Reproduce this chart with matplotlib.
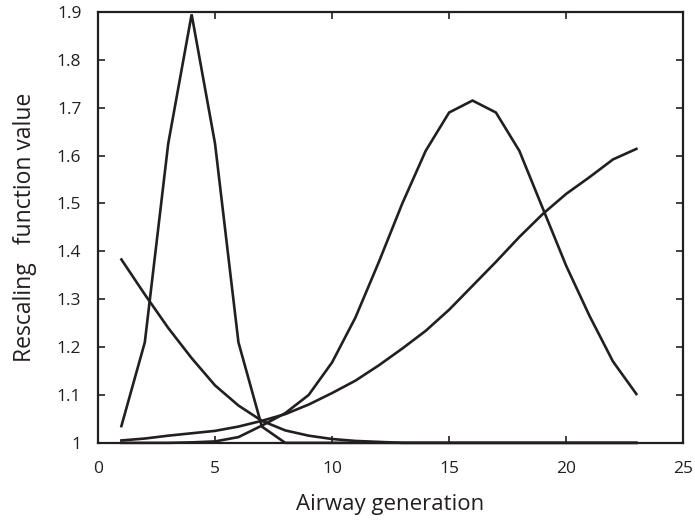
import numpy as np
from matplotlib import pyplot as plt

plt.rcParams['font.family'] = ['Open Sans', 'DejaVu Sans']

generation = np.arange(1, 24)

# rescaling functions per airway generation
peak_early = [1.035, 1.21, 1.625, 1.895, 1.625, 1.21, 1.034, 1.0, 1.0, 1.0, 1.0, 1.0,
              1.0, 1.0, 1.0, 1.0, 1.0, 1.0, 1.0, 1.0, 1.0, 1.0, 1.0]
decay = [1.383, 1.31, 1.24, 1.177, 1.12, 1.078, 1.046, 1.026, 1.015, 1.008, 1.004, 1.002,
         1.0, 1.0, 1.0, 1.0, 1.0, 1.0, 1.0, 1.0, 1.0, 1.0, 1.0]
peak_late = [1.0, 1.0, 1.0, 1.001, 1.003, 1.012, 1.036, 1.062, 1.1, 1.168, 1.262, 1.378,
             1.5, 1.61, 1.69, 1.715, 1.69, 1.61, 1.49, 1.37, 1.265, 1.17, 1.102]
rising = [1.005, 1.009, 1.015, 1.02, 1.025, 1.034, 1.046, 1.06, 1.08, 1.104, 1.13, 1.162,
          1.197, 1.234, 1.278, 1.328, 1.378, 1.43, 1.478, 1.52, 1.555, 1.592, 1.614]

ink = '#231f20'

fig = plt.figure(figsize=(6.95, 5.21), dpi=100)
ax = fig.add_axes([0.141, 0.150, 0.842, 0.827])

for ys in (peak_early, decay, peak_late, rising):
    ax.plot(generation, ys, color=ink, lw=1.9, clip_on=False, solid_joinstyle='miter')

ax.set_xlim(0, 25)
ax.set_ylim(1, 1.9)
ax.set_xticks([0, 5, 10, 15, 20, 25])
ax.set_yticks(np.arange(1.0, 1.91, 0.1))
ax.set_yticklabels(['1', '1.1', '1.2', '1.3', '1.4', '1.5', '1.6', '1.7', '1.8', '1.9'])
ax.tick_params(direction='in', length=5, width=1.2, colors=ink, labelsize=12.5,
               top=True, right=True)
ax.tick_params(axis='x', pad=13)
ax.tick_params(axis='y', pad=12)
for sp in ax.spines.values():
    sp.set_linewidth(1.6)
    sp.set_color(ink)

ax.set_xlabel('Airway generation', fontsize=16, color=ink, labelpad=12)
ax.set_ylabel('Rescaling   function value', fontsize=16.5, color=ink, labelpad=14)

fig.savefig('out.png', dpi=100)
